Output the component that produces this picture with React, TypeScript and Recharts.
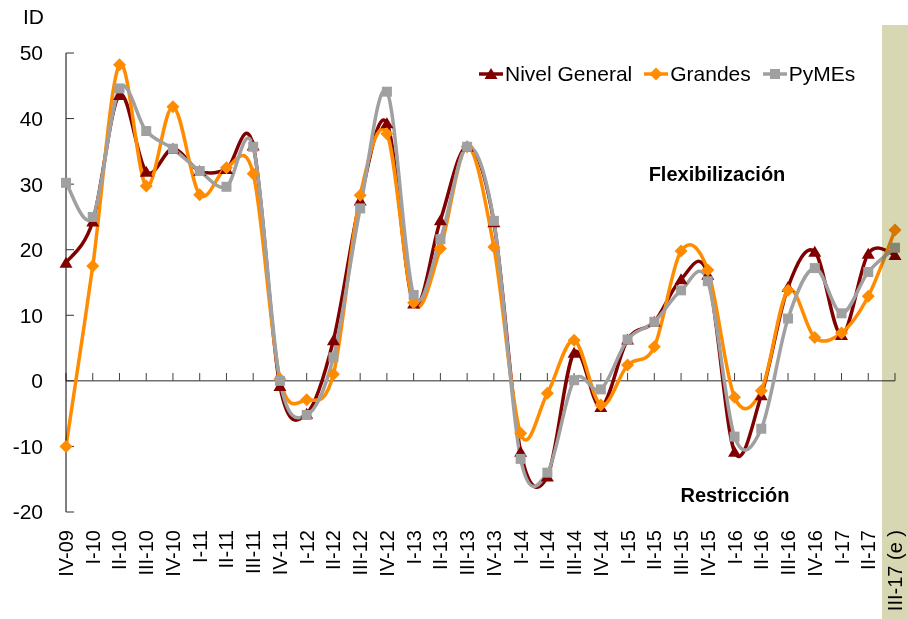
import React from 'react';
import { LineChart, Line, XAxis, YAxis, ReferenceLine, Legend } from 'recharts';

const categories = ['IV-09','I-10','II-10','III-10','IV-10','I-11','II-11','III-11','IV-11','I-12','II-12','III-12','IV-12','I-13','II-13','III-13','IV-13','I-14','II-14','III-14','IV-14','I-15','II-15','III-15','IV-15','I-16','II-16','III-16','IV-16','I-17','II-17','III-17 (e )'];

const nivelGeneral = [18.0, 24.3, 43.6, 31.9, 35.4, 32.0, 32.3, 35.9, -0.8, -5.0, 6.2, 27.5, 39.3, 11.8, 24.5, 35.7, 24.2, -10.8, -14.6, 4.3, -4.0, 6.3, 9.0, 15.5, 16.2, -10.8, -2.2, 14.3, 19.7, 7.0, 19.4, 19.2];
const grandes = [-10.0, 17.5, 48.2, 29.7, 41.8, 28.4, 32.5, 31.6, 0.3, -2.9, 1.0, 28.3, 37.7, 11.9, 20.2, 35.7, 20.4, -8.0, -1.9, 6.2, -3.7, 2.4, 5.2, 19.8, 16.9, -2.5, -1.5, 13.8, 6.6, 7.3, 12.9, 23.0];
const pymes = [30.2, 25.0, 44.6, 38.1, 35.4, 32.0, 29.6, 35.7, 0.0, -5.2, 3.6, 26.3, 44.1, 13.1, 21.6, 35.7, 24.4, -11.9, -14.0, 0.1, -1.3, 6.3, 9.0, 13.8, 15.2, -8.5, -7.3, 9.5, 17.2, 10.3, 16.6, 20.3];

const yTicks = [-20, -10, 0, 10, 20, 30, 40, 50];
const seriesOrder = ['nivel', 'grandes', 'pymes'];

const data = categories.map((c, i) => ({ cat: c, nivel: nivelGeneral[i], grandes: grandes[i], pymes: pymes[i] }));

const C_NIVEL = '#800000';
const C_GRANDES = '#FF8C00';
const C_PYMES = '#A0A0A0';
const FONT = '"Liberation Sans", Arial, sans-serif';

// Excel-like smoothed line (Catmull-Rom via cubic Bezier)
const excelCurve: any = (context: any) => {
  let pts: [number, number][] = [];
  return {
    areaStart() {},
    areaEnd() {},
    lineStart() { pts = []; },
    point(x: number, y: number) { pts.push([+x, +y]); },
    lineEnd() {
      const n = pts.length;
      if (n === 0) return;
      context.moveTo(pts[0][0], pts[0][1]);
      for (let i = 0; i < n - 1; i++) {
        const p0 = pts[i > 0 ? i - 1 : i];
        const p1 = pts[i];
        const p2 = pts[i + 1];
        const p3 = pts[i + 2 < n ? i + 2 : i + 1];
        context.bezierCurveTo(
          p1[0] + (p2[0] - p0[0]) / 6, p1[1] + (p2[1] - p0[1]) / 6,
          p2[0] - (p3[0] - p1[0]) / 6, p2[1] - (p3[1] - p1[1]) / 6,
          p2[0], p2[1]
        );
      }
    },
  };
};

const markerPath = (shape: string, cx: number, cy: number) => {
  if (shape === 'tri') return `M${cx},${cy - 6}L${cx + 6.5},${cy + 5}L${cx - 6.5},${cy + 5}Z`;
  if (shape === 'dia') return `M${cx},${cy - 6.5}L${cx + 6.5},${cy}L${cx},${cy + 6.5}L${cx - 6.5},${cy}Z`;
  return `M${cx - 5},${cy - 5}L${cx + 5},${cy - 5}L${cx + 5},${cy + 5}L${cx - 5},${cy + 5}Z`;
};

const makeDot = (shape: string, color: string) => (props: any) => {
  const { cx, cy, index } = props;
  if (cx == null || cy == null) return <g key={`d-${shape}-${index}`} />;
  return <path key={`d-${shape}-${index}`} d={markerPath(shape, cx, cy)} fill={color} stroke="none" />;
};

const XTick = (props: any) => {
  const { x, y, payload } = props;
  return (
    <g transform={`translate(${x},${y + 18}) rotate(-90)`}>
      <text x={0} y={0} dy="0.35em" textAnchor="end" fill="#000" fontSize={20} fontFamily={FONT}>{payload.value}</text>
    </g>
  );
};

const shapeFor: Record<string, string> = { nivel: 'tri', grandes: 'dia', pymes: 'sq' };

const LegendContent = (props: any) => {
  const items = [...(props.payload || [])].sort((a: any, b: any) => seriesOrder.indexOf(a.dataKey) - seriesOrder.indexOf(b.dataKey));
  return (
    <div style={{ display: 'flex', alignItems: 'center', fontFamily: FONT, fontSize: 21, color: '#000', whiteSpace: 'nowrap', lineHeight: '24px' }}>
      {items.map((p: any) => (
        <div key={p.dataKey} style={{ display: 'flex', alignItems: 'center', marginRight: 12 }}>
          <svg width={26} height={20} style={{ display: 'block' }}>
            <line x1={0} y1={10} x2={24} y2={10} stroke={p.color} strokeWidth={3.5} />
            <path d={markerPath(shapeFor[p.dataKey], 12, 10)} fill={p.color} />
          </svg>
          <span>{p.value}</span>
        </div>
      ))}
    </div>
  );
};

export default function App() {
  return (
    <div style={{ position: 'absolute', left: 0, top: 0, width: 908, height: 619, overflow: 'hidden', background: '#fff' }}>
      <LineChart width={908} height={619} data={data} margin={{ top: 53, right: 13, left: 6, bottom: 7 }}>
        <XAxis dataKey="cat" axisLine={false} tickLine={false} tickSize={0} tickMargin={0} height={100} interval={0} tick={<XTick />} />
        <YAxis domain={[-20, 50]} ticks={yTicks} width={60} axisLine={{ stroke: '#000', strokeWidth: 1 }} tickLine={{ stroke: '#333', strokeWidth: 1 }} tickSize={-8} tickMargin={31} tick={{ fill: '#000', fontSize: 21, fontFamily: FONT }} />
        <ReferenceLine y={0} stroke="#707070" strokeWidth={1.5} ifOverflow="visible" />
        {categories.map((c) => (
          <ReferenceLine key={`t-${c}`} segment={[{ x: c, y: 0 }, { x: c, y: 1.2 }]} stroke="#404040" strokeWidth={1} ifOverflow="visible" />
        ))}
        <Legend verticalAlign="middle" align="center" layout="horizontal" itemSorter={null as any} wrapperStyle={{ top: 62, left: 479, width: 420, height: 24 }} content={<LegendContent />} />
        <Line dataKey="nivel" name="Nivel General" type={excelCurve} stroke={C_NIVEL} strokeWidth={3.5} dot={makeDot('tri', C_NIVEL)} activeDot={false} isAnimationActive={false} />
        <Line dataKey="grandes" name="Grandes" type={excelCurve} stroke={C_GRANDES} strokeWidth={3.5} dot={makeDot('dia', C_GRANDES)} activeDot={false} isAnimationActive={false} />
        <Line dataKey="pymes" name="PyMEs" type={excelCurve} stroke={C_PYMES} strokeWidth={3.5} dot={makeDot('sq', C_PYMES)} activeDot={false} isAnimationActive={false} />
      </LineChart>
      <div style={{ position: 'absolute', right: 908 - 44, top: 5, fontFamily: FONT, fontSize: 21, lineHeight: '24px', color: '#000' }}>ID</div>
      <div style={{ position: 'absolute', left: 617, width: 200, textAlign: 'center', top: 162, fontFamily: FONT, fontSize: 20, fontWeight: 'bold', lineHeight: '24px', color: '#000' }}>Flexibilización</div>
      <div style={{ position: 'absolute', left: 635, width: 200, textAlign: 'center', top: 483, fontFamily: FONT, fontSize: 20, fontWeight: 'bold', lineHeight: '24px', color: '#000' }}>Restricción</div>
      <div style={{ position: 'absolute', left: 882, top: 25, width: 26, height: 594, background: '#D7D7B4', mixBlendMode: 'multiply' }} />
    </div>
  );
}
